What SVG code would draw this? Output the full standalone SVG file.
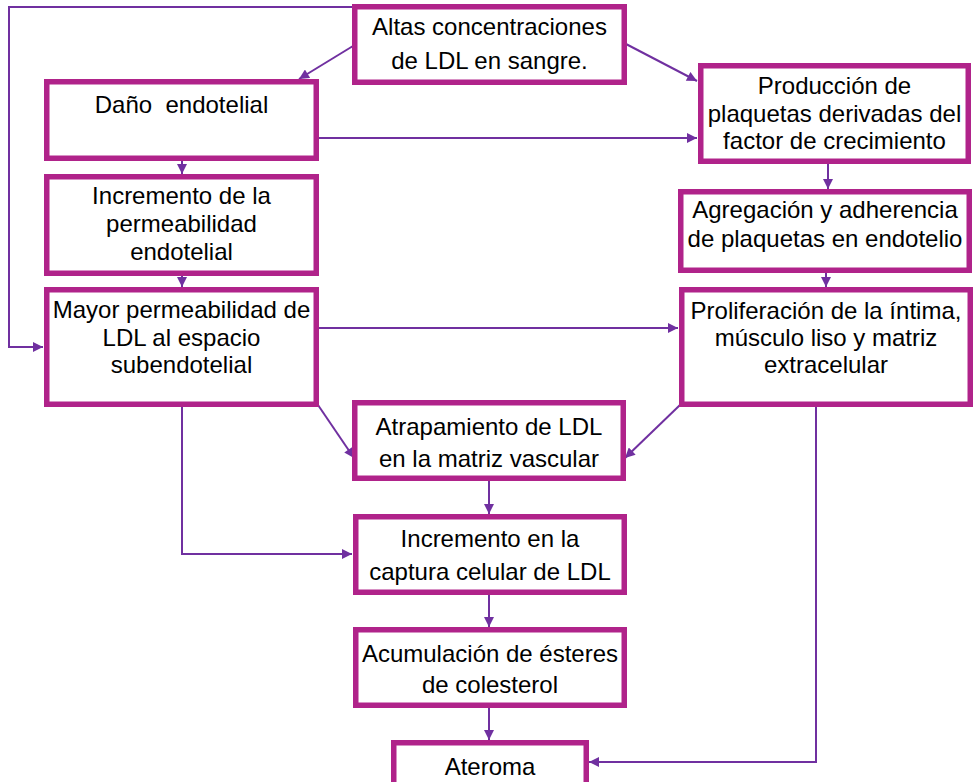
<svg xmlns="http://www.w3.org/2000/svg" width="975" height="782" viewBox="0 0 975 782">
<style>
.box{fill:#fff;stroke:#B0238A;stroke-width:5.5}
.t{font-family:"Liberation Sans",Arial,sans-serif;font-size:24px;fill:#000;text-anchor:middle}
.c{fill:none;stroke:#7030A0;stroke-width:2}
</style>
<defs>
<marker id="ah" viewBox="0 0 10 10" refX="10" refY="5" markerWidth="11" markerHeight="10" markerUnits="userSpaceOnUse" orient="auto">
<path d="M0,0 L10,5 L0,10 z" fill="#7030A0"/>
</marker>
</defs>
<rect width="975" height="782" fill="#fff"/>
<g id="connectors">
<polyline class="c" points="353,7 9,7 9,347 43,347" marker-end="url(#ah)"/>
<line class="c" x1="353" y1="46" x2="299" y2="79" marker-end="url(#ah)"/>
<line class="c" x1="626" y1="44" x2="697" y2="81" marker-end="url(#ah)"/>
<line class="c" x1="319" y1="138" x2="697" y2="138" marker-end="url(#ah)"/>
<line class="c" x1="182" y1="161" x2="182" y2="174" marker-end="url(#ah)"/>
<line class="c" x1="182" y1="276" x2="182" y2="287" marker-end="url(#ah)"/>
<line class="c" x1="319" y1="328" x2="678" y2="328" marker-end="url(#ah)"/>
<line class="c" x1="318" y1="405" x2="354" y2="458" marker-end="url(#ah)"/>
<polyline class="c" points="182,407 182,554 352,554" marker-end="url(#ah)"/>
<line class="c" x1="828" y1="164" x2="828" y2="189" marker-end="url(#ah)"/>
<line class="c" x1="826" y1="273" x2="826" y2="287" marker-end="url(#ah)"/>
<line class="c" x1="680" y1="405" x2="625" y2="458" marker-end="url(#ah)"/>
<polyline class="c" points="816,407 816,762 589,762" marker-end="url(#ah)"/>
<line class="c" x1="489" y1="481" x2="489" y2="514" marker-end="url(#ah)"/>
<line class="c" x1="489" y1="595" x2="489" y2="627" marker-end="url(#ah)"/>
<line class="c" x1="489" y1="708" x2="489" y2="740" marker-end="url(#ah)"/>
</g>
<g id="altas">
<rect class="box" x="354.75" y="6.75" width="269.5" height="75.5"/>
<text class="t" x="489.5" y="35">Altas concentraciones</text>
<text class="t" x="489.5" y="69">de LDL en sangre.</text>
</g>
<g id="dano">
<rect class="box" x="46.75" y="81.75" width="269.5" height="76.5"/>
<text class="t" x="181.5" y="113" xml:space="preserve">Daño  endotelial</text>
</g>
<g id="incremento-permeabilidad">
<rect class="box" x="46.75" y="176.75" width="269.5" height="96.5"/>
<text class="t" x="181.5" y="204">Incremento de la</text>
<text class="t" x="181.5" y="232">permeabilidad</text>
<text class="t" x="181.5" y="260">endotelial</text>
</g>
<g id="mayor-permeabilidad">
<rect class="box" x="46.75" y="289.75" width="269.5" height="114.5"/>
<text class="t" x="181.5" y="318">Mayor permeabilidad de</text>
<text class="t" x="181.5" y="346">LDL al espacio</text>
<text class="t" x="181.5" y="373">subendotelial</text>
</g>
<g id="produccion">
<rect class="box" x="700.75" y="65.75" width="267.5" height="95.5"/>
<text class="t" x="834.5" y="94">Producción de</text>
<text class="t" x="834.5" y="121.5">plaquetas derivadas del</text>
<text class="t" x="834.5" y="149">factor de crecimiento</text>
</g>
<g id="agregacion">
<rect class="box" x="680.75" y="191.75" width="288.5" height="78.5"/>
<text class="t" x="825" y="218">Agregación y adherencia</text>
<text class="t" x="825" y="247">de plaquetas en endotelio</text>
</g>
<g id="proliferacion">
<rect class="box" x="681.75" y="289.75" width="288.5" height="114.5"/>
<text class="t" x="826" y="319">Proliferación de la íntima,</text>
<text class="t" x="826" y="346">músculo liso y matriz</text>
<text class="t" x="826" y="373">extracelular</text>
</g>
<g id="atrapamiento">
<rect class="box" x="354.75" y="402.75" width="268.5" height="75.5"/>
<text class="t" x="489" y="435">Atrapamiento de LDL</text>
<text class="t" x="489" y="467">en la matriz vascular</text>
</g>
<g id="incremento-captura">
<rect class="box" x="355.75" y="516.75" width="268.5" height="75.5"/>
<text class="t" x="490" y="547">Incremento en la</text>
<text class="t" x="490" y="580">captura celular de LDL</text>
</g>
<g id="acumulacion">
<rect class="box" x="355.75" y="629.75" width="268.5" height="75.5"/>
<text class="t" x="490" y="662">Acumulación de ésteres</text>
<text class="t" x="490" y="693">de colesterol</text>
</g>
<g id="ateroma">
<rect class="box" x="393.75" y="742.75" width="192.5" height="50"/>
<text class="t" x="490" y="775">Ateroma</text>
</g>
</svg>
